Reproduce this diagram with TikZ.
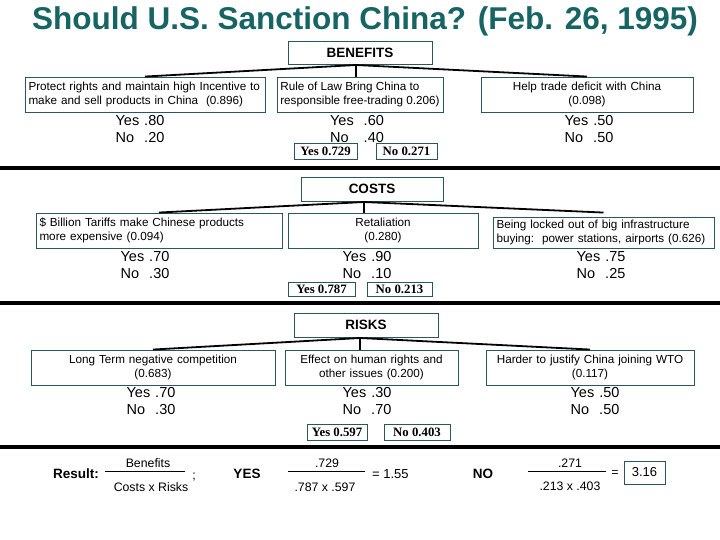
\documentclass[tikz,border=0pt]{standalone}
\usepackage{fontspec}
\setmainfont{Liberation Sans}
\newfontfamily\serifbf{Liberation Serif}
\definecolor{titlec}{RGB}{22,100,100}
\definecolor{boxc}{RGB}{40,88,88}
\newcommand{\yntab}[3]{\begin{tabular}{@{}l@{\hspace{#1}}r@{}}Yes & #2\\ No & #3\end{tabular}}
\begin{document}
\begin{tikzpicture}[x=1pt,y=-1pt,
  box/.style={draw=boxc, line width=0.9pt, inner xsep=3.5pt, inner ysep=2pt, font=\fontsize{11.7}{14.5}\selectfont},
  head/.style={draw=boxc, line width=0.9pt, inner sep=2pt, font=\fontsize{13.5}{16}\selectfont\bfseries},
  tot/.style={draw=boxc, line width=0.9pt, inner sep=0.5pt, font=\serifbf\bfseries\fontsize{12.8}{14}\selectfont},
  conn/.style={line width=1.8pt},
  sepline/.style={line width=4pt},
  yn/.style={font=\fontsize{14.5}{17}\selectfont, inner sep=0pt},
  res/.style={font=\fontsize{12.3}{14}\selectfont, inner sep=0pt},
  resb/.style={font=\fontsize{13.5}{16}\selectfont\bfseries, inner sep=0pt},
  fbar/.style={line width=0.8pt}]
\useasboundingbox (0,0) rectangle (720,540);

% title
\node[font=\fontsize{31.5}{36}\selectfont\bfseries, text=titlec, inner sep=0pt] (title) at (365,21) {Should U.S. Sanction China? (Feb. 26, 1995)};

% ---------------- BENEFITS
\node[head, minimum width=144pt, minimum height=23pt] (B) at (360,53) {BENEFITS};
\coordinate (jB) at (356,65);
\node[box, minimum width=240pt, minimum height=35pt, text width=233pt, align=left] (b1) at (145,94.5)
  {Protect rights and maintain high Incentive to\\make and sell products in China\ \ (0.896)};
\node[box, inner xsep=1pt, minimum width=166pt, minimum height=35pt, align=left] (b2) at (360,94.5)
  {Rule of Law Bring China to\\responsible free-trading 0.206)};
\node[box, minimum width=212pt, minimum height=35pt, text width=205pt, align=center] (b3) at (587,94.5)
  {Help trade deficit with China\\(0.098)};
\draw[conn] (jB) -- (b1.north);
\draw[conn] (jB) -- (jB |- b2.north);
\draw[conn] (jB) -- (b3.north);
\node[yn] (b1yn) at (140,130.5) {\yntab{5pt}{.80}{.20}};
\node[yn] (b2yn) at (357,130.5) {\yntab{10pt}{.60}{.40}};
\node[yn] (b3yn) at (589,130.5) {\yntab{5pt}{.50}{.50}};
\node[tot, minimum width=63pt, minimum height=16pt] (bY) at (325.5,151) {Yes 0.729};
\node[tot, minimum width=61pt, minimum height=16pt] (bN) at (406.5,151) {No 0.271};

\draw[sepline] (0,168) -- (720,168);

% ---------------- COSTS
\node[head, minimum width=142pt, minimum height=24pt] (C) at (372,189) {COSTS};
\coordinate (jC) at (364,202);
\node[box, minimum width=246pt, minimum height=35pt, text width=239pt, align=left] (c1) at (159,230.5)
  {\$ Billion Tariffs make Chinese products\\more expensive (0.094)};
\node[box, minimum width=190pt, minimum height=35pt, text width=183pt, align=center] (c2) at (383,230.5)
  {Retaliation\\(0.280)};
\node[box, minimum width=221pt, minimum height=31pt, text width=214pt, align=left] (c3) at (603.5,232.5)
  {Being locked out of big infrastructure\\buying:\ \ power stations, airports (0.626)};
\draw[conn] (jC) -- (c1.north);
\draw[conn] (jC) -- (jC |- c2.north);
\draw[conn] (jC) -- ([yshift=4pt]c3.north);
\node[yn] (c1yn) at (145,266.5) {\yntab{5pt}{.70}{.30}};
\node[yn] (c2yn) at (367,266.5) {\yntab{5pt}{.90}{.10}};
\node[yn] (c3yn) at (601,266.5) {\yntab{5pt}{.75}{.25}};
\node[tot, minimum width=67pt, minimum height=14pt] (cY) at (321.5,289) {Yes 0.787};
\node[tot, minimum width=65pt, minimum height=14pt] (cN) at (399.5,289) {No 0.213};

\draw[sepline] (0,303) -- (720,303);

% ---------------- RISKS
\node[head, minimum width=144pt, minimum height=24pt] (R) at (366,325) {RISKS};
\coordinate (jR) at (360,338);
\node[box, minimum width=244pt, minimum height=35pt, text width=237pt, align=center] (r1) at (153,367.5)
  {Long Term negative competition\\(0.683)};
\node[box, minimum width=173pt, minimum height=35pt, text width=166pt, align=center] (r2) at (371.5,367.5)
  {Effect on human rights and\\other issues (0.200)};
\node[box, minimum width=208pt, minimum height=35pt, text width=201pt, align=center] (r3) at (590,367.5)
  {Harder to justify China joining WTO\\(0.117)};
\draw[conn] (jR) -- (r1.north);
\draw[conn] (jR) -- (jR |- r2.north);
\draw[conn] (jR) -- (r3.north);
\node[yn] (r1yn) at (151,402.5) {\yntab{5pt}{.70}{.30}};
\node[yn] (r2yn) at (367,402.5) {\yntab{5pt}{.30}{.70}};
\node[yn] (r3yn) at (595,402.5) {\yntab{5pt}{.50}{.50}};
\node[tot, minimum width=60pt, minimum height=16pt] (rY) at (337,432) {Yes 0.597};
\node[tot, minimum width=66pt, minimum height=16pt] (rN) at (417,432) {No 0.403};

\draw[sepline] (0,447) -- (720,447);

% ---------------- RESULT
\node[resb, anchor=west] (result) at (53,474) {Result:};
\node[res] (f1n) at (148,463) {Benefits};
\node[res] (f1d) at (151,487) {Costs x Risks};
\draw[fbar] (105,471) -- (185,471);
\node[res] (semi) at (194,477) {;};
\node[resb] (yes) at (247,474) {YES};
\node[res] (f2n) at (327,463) {.729};
\node[res] (f2d) at (325,487) {.787 x .597};
\draw[fbar] (288,471) -- (365,471);
\node[res, anchor=west, font=\fontsize{13}{15}\selectfont] (eq1) at (372,474) {= 1.55};
\node[resb] (no) at (483,474) {NO};
\node[res] (f3n) at (570,463) {.271};
\node[res] (f3d) at (570,486) {.213 x .403};
\draw[fbar] (528,471) -- (606,471);
\node[res] (eq2) at (615,473) {=};
\node[draw=boxc, line width=0.9pt, minimum width=41pt, minimum height=23pt, inner sep=0pt, font=\fontsize{13}{15}\selectfont] (final) at (644.5,472.5) {3.16};
\end{tikzpicture}
\end{document}
